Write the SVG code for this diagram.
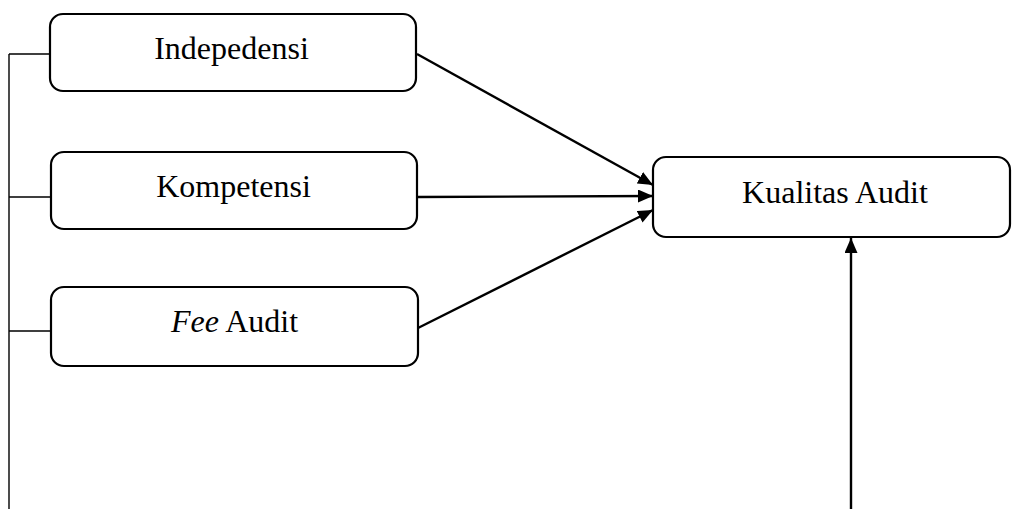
<svg xmlns="http://www.w3.org/2000/svg" width="1012" height="509" viewBox="0 0 1012 509">
<style>
.box{fill:#fff;stroke:#000;stroke-width:2.2}
.lbl{font-family:"Liberation Serif","Times New Roman",serif;font-size:32px;fill:#000;text-anchor:middle}
.thin{stroke:#000;stroke-width:1.4;fill:none}
.arr{stroke:#000;stroke-width:2.4;fill:none;marker-end:url(#ah)}
</style>
<defs>
<marker id="ah" markerUnits="userSpaceOnUse" markerWidth="16" markerHeight="14" refX="15" refY="6.5" orient="auto">
<path d="M0,0 L15,6.5 L0,13 Z" fill="#000"/>
</marker>
</defs>
<g id="connectors">
<path class="thin" d="M9,54 V509 M9,54 H50 M9,197 H50 M9,331 H51"/>
<line class="arr" x1="417" y1="54" x2="653" y2="185"/>
<line class="arr" x1="418" y1="197" x2="653" y2="196"/>
<line class="arr" x1="418" y1="328" x2="653" y2="210"/>
<line class="arr" x1="851" y1="509" x2="851" y2="238"/>
</g>
<g id="indepedensi">
<rect class="box" x="50" y="14" width="366" height="77" rx="13"/>
<text class="lbl" x="231.5" y="59">Indepedensi</text>
</g>
<g id="kompetensi">
<rect class="box" x="51" y="152" width="366" height="77" rx="13"/>
<text class="lbl" x="233.5" y="197">Kompetensi</text>
</g>
<g id="fee-audit">
<rect class="box" x="51" y="287" width="367" height="79" rx="13"/>
<text class="lbl" x="234.5" y="332"><tspan font-style="italic">Fee</tspan> Audit</text>
</g>
<g id="kualitas-audit">
<rect class="box" x="653" y="157" width="357" height="80" rx="13"/>
<text class="lbl" x="835" y="203">Kualitas Audit</text>
</g>
</svg>
